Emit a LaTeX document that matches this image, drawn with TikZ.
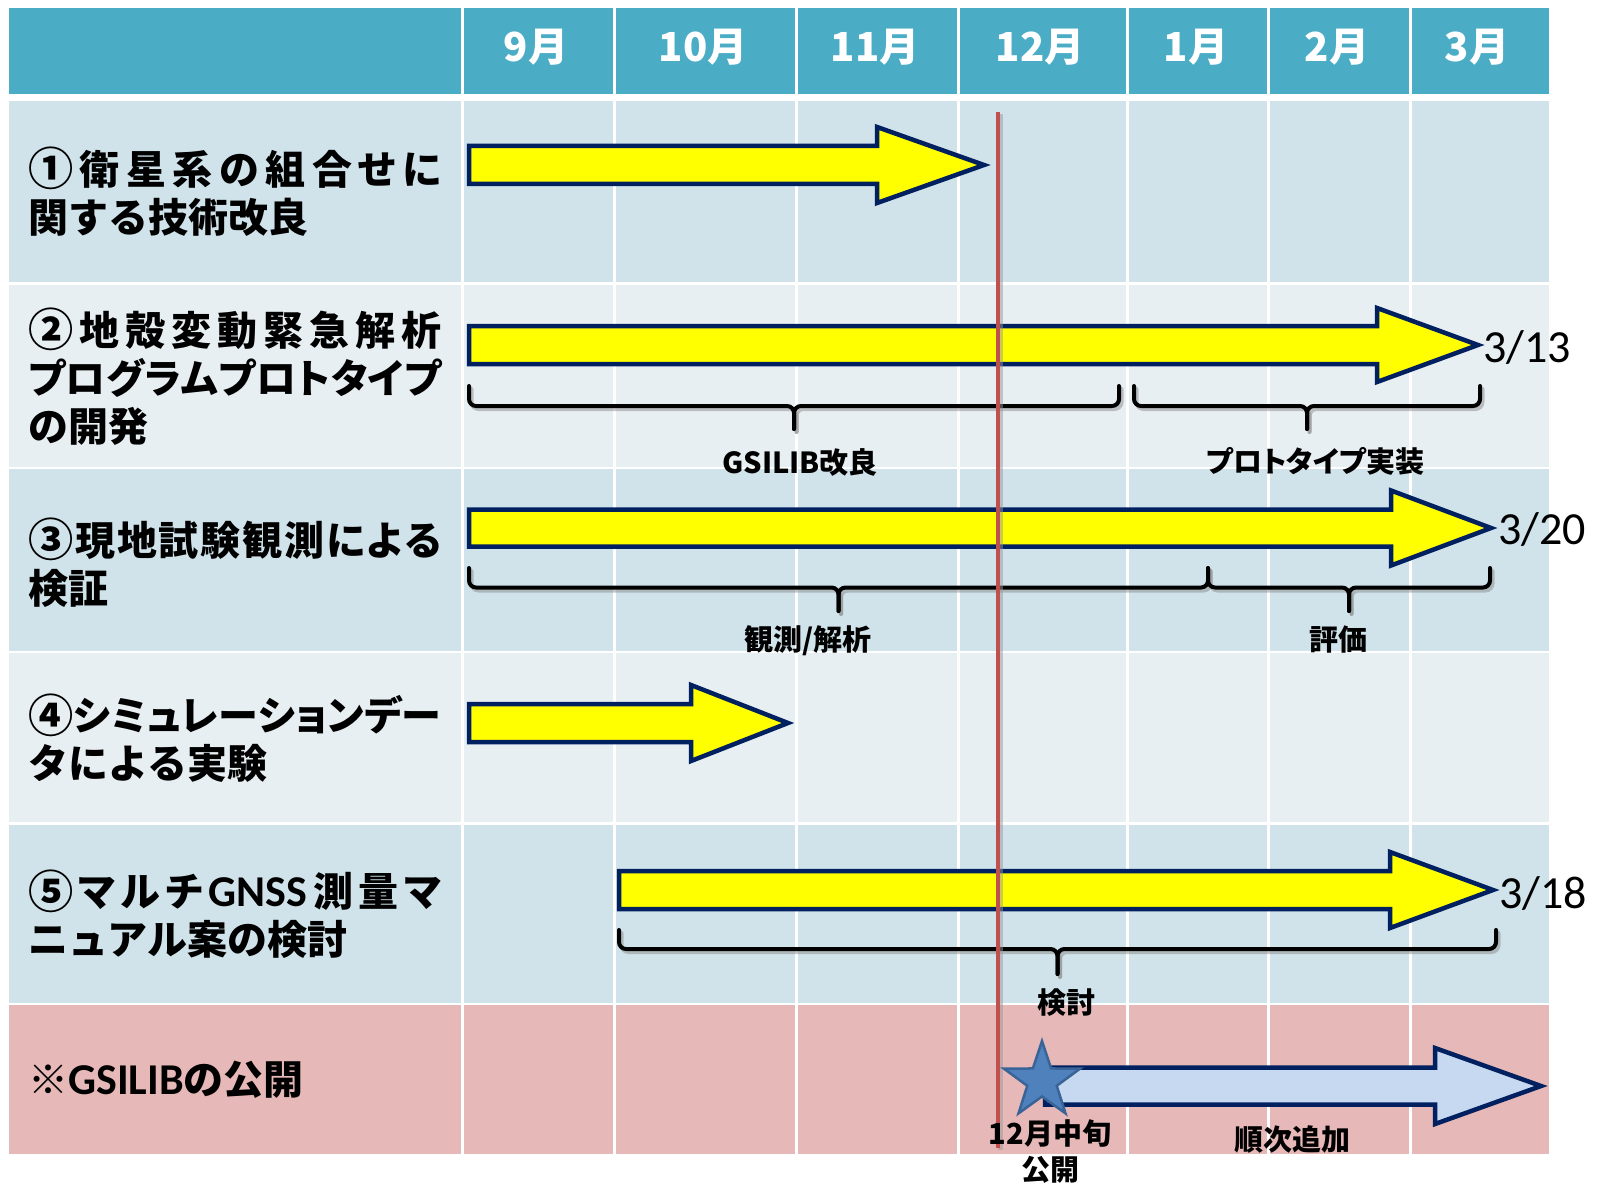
\documentclass[tikz,border=0pt]{standalone}
\usepackage{fontspec}
\usepackage{graphicx}
\setmainfont{Noto Sans CJK JP}
\newfontfamily\jpp{Noto Sans CJK JP}[RawFeature=+palt]
\newfontfamily\calfont{Carlito}
\definecolor{hdr}{HTML}{4BACC6}
\definecolor{rowA}{HTML}{D0E3EA}
\definecolor{rowB}{HTML}{E8EFF3}
\definecolor{rowP}{HTML}{E6B8B7}
\definecolor{navy}{HTML}{002060}
\definecolor{ylw}{HTML}{FFFF00}
\definecolor{lblue}{HTML}{C6D9F1}
\definecolor{redl}{HTML}{C0504D}
\definecolor{starf}{HTML}{4F81BD}
\definecolor{stard}{HTML}{3A6497}
\def\sprA#1#2\relax{#1\sprB#2\relax}
\def\sprB#1{\ifx\relax#1\else\hfil#1\expandafter\sprB\fi}
\newcommand\spr[1]{\makebox[413pt][s]{\jpp\bfseries\sprA#1\relax}}
\newcommand\cnum[1]{\raisebox{-1.5pt}{\scalebox{1.13}{#1}}}
\newcommand\latb[1]{{\calfont\bfseries\fontsize{44}{48}\selectfont #1}}
% gantt arrow: x0, yc, half body, head base x, half head, tip x, fill
\newcommand\garrow[7]{%
  \draw[arrowshape,fill=#7] (#1,#2-#3) -- (#4,#2-#3) -- (#4,#2-#5) -- (#6,#2)
    -- (#4,#2+#5) -- (#4,#2+#3) -- (#1,#2+#3) -- cycle;}
% bracket: x1, x2, top y, horizontal y, tick bottom y
\newcommand\gbrace[5]{%
  \begin{scope}[shift={(2.5,3)}]
  \draw[bracestyle,black!45,opacity=.5] (#1,#3) -- (#1,#4) -- ({(#1+#2)/2},#4) -- ({(#1+#2)/2},#5);
  \draw[bracestyle,black!45,opacity=.5] (#2,#3) -- (#2,#4) -- ({(#1+#2)/2},#4) -- ({(#1+#2)/2},#5);
  \end{scope}
  \draw[bracestyle] (#1,#3) -- (#1,#4) -- ({(#1+#2)/2},#4) -- ({(#1+#2)/2},#5);
  \draw[bracestyle] (#2,#3) -- (#2,#4) -- ({(#1+#2)/2},#4) -- ({(#1+#2)/2},#5);}
\begin{document}
\begin{tikzpicture}[x=1pt,y=-1pt,
  arrowshape/.style={draw=navy,line width=4.5pt,line join=miter},
  bracestyle/.style={draw=black,line width=4pt,rounded corners=7pt,line cap=round},
  gridline/.style={white,line width=3pt},
  monthlab/.style={text=white,font=\bfseries\fontsize{40}{48}\selectfont,inner sep=0pt},
  rowlab/.style={font=\bfseries\fontsize{40}{48}\selectfont,align=left,inner sep=0pt,anchor=west},
  sublab/.style={font=\bfseries\fontsize{29}{36}\selectfont,align=center,inner sep=0pt},
  datelab/.style={font=\calfont\fontsize{46}{50}\selectfont,inner sep=0pt,anchor=west}]
\useasboundingbox (0,0) rectangle (1602,1185);
\fill[white] (0,0) rectangle (1602,1185);
% rows
\fill[hdr]  (9,8)      rectangle (1549,94);
\fill[rowA] (9,101.5)  rectangle (1549,282);
\fill[rowB] (9,284.5)  rectangle (1549,466.5);
\fill[rowA] (9,469)    rectangle (1549,650.5);
\fill[rowB] (9,653)    rectangle (1549,822);
\fill[rowA] (9,824.5)  rectangle (1549,1002.5);
\fill[rowP] (9,1005)   rectangle (1549,1153.5);
% column separators
\foreach \cx in {462.5,614,796,958,1127,1268.5,1410}
  \draw[gridline] (\cx,0) -- (\cx,1160);
% month headers
\node[monthlab] (m9)  at (536,47)    {9月};
\node[monthlab] (m10) at (703,47)    {10月};
\node[monthlab] (m11) at (875,47)    {11月};
\node[monthlab] (m12) at (1040,47)   {12月};
\node[monthlab] (m1)  at (1196,47)   {1月};
\node[monthlab] (m2)  at (1337,47)   {2月};
\node[monthlab] (m3)  at (1477,47)   {3月};
% row labels
\node[rowlab] (r1) at (28,191.5) {\spr{{\cnum{①}}衛星系の組合せに}\\関する技術改良};
\node[rowlab] (r2) at (28,376.5) {\spr{{\cnum{②}}地殻変動緊急解析}\\\spr{プログラムプロトタイプ}\\の開発};
\node[rowlab] (r3) at (28,562.5) {\spr{{\cnum{③}}現地試験観測による}\\検証};
\node[rowlab] (r4) at (28,738)   {\spr{{\cnum{④}}シミュレーションデー}\\タによる実験};
\node[rowlab] (r5) at (28,914)   {\spr{{\cnum{⑤}}マルチ{\latb{GNSS}}測量マ}\\ニュアル案の検討};
\node[rowlab] (r6) at (28,1080)  {※\latb{GSILIB}の公開};
% arrows
\garrow{469}{165}{19}{877}{38}{984}{ylw}
\garrow{469}{345}{19}{1377}{37}{1478}{ylw}
\garrow{469}{528}{18.5}{1391}{37.5}{1491}{ylw}
\garrow{469}{723}{19}{691}{38}{788}{ylw}
\garrow{619}{890}{19}{1390}{38}{1493}{ylw}
\garrow{1045}{1086}{18.5}{1435}{38}{1541}{lblue}
% brackets
\gbrace{469}{1119}{386}{406}{429}
\gbrace{1134}{1480}{386}{406}{429}
\gbrace{469}{1208}{568}{587.5}{611}
\gbrace{1208}{1490}{568}{587.5}{611}
\gbrace{619}{1496}{930}{949}{974}
% red line with shadow
\draw[black!40,opacity=.5,line width=4.5pt] (1000.5,114) -- (1000.5,1150);
\draw[redl,line width=4.5pt] (998,112) -- (998,1148);
% star (point up)
\begin{scope}[shift={(1042,1081)}]
\draw[draw=stard,fill=starf,line width=2.5pt,line join=miter]
  (270:40) \foreach \k in {0,...,4} { -- ({306+72*\k}:15.5) -- ({342+72*\k}:40)} -- cycle;
\end{scope}
% date labels
\node[datelab] (d1) at (1483,348) {3/13};
\node[datelab] (d2) at (1498,530) {3/20};
\node[datelab] (d3) at (1499,893) {3/18};
% sub labels
\node[sublab] (s1) at (800,462)  {GSILIB改良};
\node[sublab] (s2) at (1315,461) {\jpp\bfseries プロトタイプ実装};
\node[sublab] (s3) at (808,641)  {観測/解析};
\node[sublab] (s4) at (1338,640) {評価};
\node[sublab] (s5) at (1066,1003) {検討};
\node[sublab] (s6) at (1292,1139) {順次追加};
\node[sublab] (s7) at (1050,1152) {12月中旬\\公開};
\end{tikzpicture}
\end{document}
